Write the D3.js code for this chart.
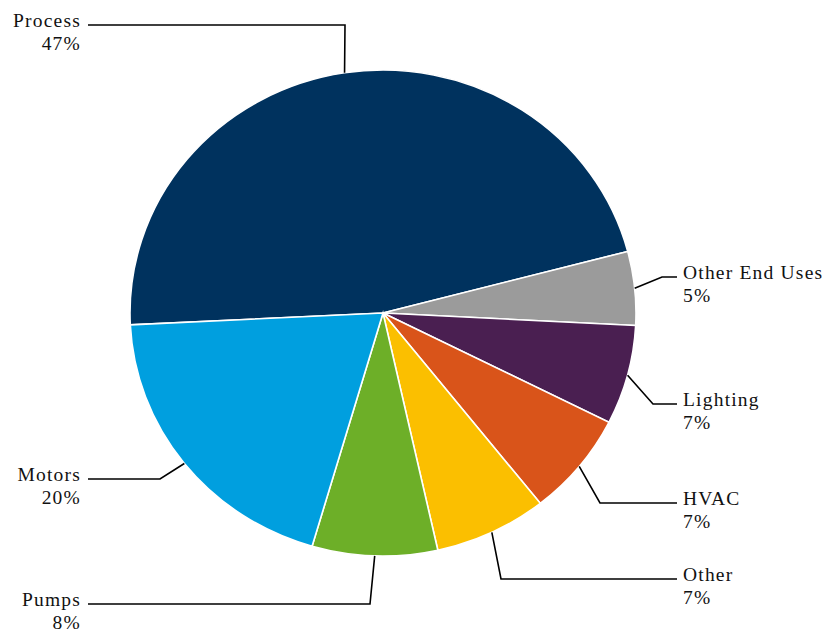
<!DOCTYPE html>
<html>
<head>
<meta charset="utf-8">
<script src="https://cdn.jsdelivr.net/npm/d3@7"></script>
<style>
  body { margin: 0; background: #fff; }
  svg { display: block; }
  .leader { fill: none; stroke: #000; stroke-width: 1.6; }
</style>
</head>
<body>
<svg id="chart" width="834" height="633"></svg>
<script>
// data (share of energy use)
const categories = ['Process', 'Other End Uses', 'Lighting', 'HVAC', 'Other', 'Pumps', 'Motors'];
const values = [46.7, 4.9, 6.6, 6.9, 7.2, 8.0, 19.7];
const colors = ['#00325e', '#9b9b9b', '#4a1f51', '#d9541a', '#fbbf00', '#6daf28', '#009fdf'];

// label layout: elbow point of each leader, side of the text
const labelLayout = {
  'Process':        { elbow: [345, 25],  side: 'left' },
  'Other End Uses': { elbow: [662, 277], side: 'right' },
  'Lighting':       { elbow: [653, 404], side: 'right' },
  'HVAC':           { elbow: [600, 503], side: 'right' },
  'Other':          { elbow: [501, 579], side: 'right' },
  'Pumps':          { elbow: [370, 604], side: 'left' },
  'Motors':         { elbow: [160, 479], side: 'left' }
};

const cx = 383, cy = 313;
const rx = 253, ry = 243;
const startDeg = -92.8;
const labelFont = "'Liberation Serif', 'DejaVu Serif', serif";

const svg = d3.select('#chart');
const total = d3.sum(values);
const data = categories.map((c, i) => ({ name: c, value: values[i], color: colors[i] }));

const pie = d3.pie()
  .sort(null)
  .value(d => d.value)
  .startAngle(startDeg * Math.PI / 180)
  .endAngle((startDeg + 360) * Math.PI / 180);

const arcs = pie(data);
const arc = d3.arc().innerRadius(0).outerRadius(rx);

// slices (pie is a bit squashed vertically in the picture)
const g = svg.append('g')
  .attr('transform', `translate(${cx},${cy}) scale(1,${ry / rx})`);

g.selectAll('path.slice')
  .data(arcs)
  .enter()
  .append('path')
  .attr('class', 'slice')
  .attr('d', arc)
  .attr('fill', d => d.data.color)
  .attr('stroke', '#fff')
  .attr('stroke-width', 1.6)
  .attr('vector-effect', 'non-scaling-stroke');

// leaders + labels
const lineEndRight = 677, lineEndLeft = 88;
const textRight = 683, textLeft = 81;

arcs.forEach(d => {
  const lay = labelLayout[d.data.name];
  const mid = (d.startAngle + d.endAngle) / 2;
  const p0 = [cx + rx * Math.sin(mid), cy - ry * Math.cos(mid)];
  const [ex, ey] = lay.elbow;
  const endX = lay.side === 'right' ? lineEndRight : lineEndLeft;

  svg.append('path')
    .attr('class', 'leader')
    .attr('d', d3.line()([p0, [ex, ey], [endX, ey]]));

  const t = svg.append('text')
    .attr('font-family', labelFont)
    .attr('font-size', 19.5)
    .attr('letter-spacing', 1.2)
    .attr('fill', '#111')
    .attr('text-anchor', lay.side === 'right' ? 'start' : 'end')
    .attr('x', lay.side === 'right' ? textRight : textLeft)
    .attr('y', ey + 2);
  t.append('tspan').text(d.data.name);
  t.append('tspan')
    .attr('x', lay.side === 'right' ? textRight : textLeft)
    .attr('dy', 23)
    .text(Math.round(d.data.value / total * 100) + '%');
});
</script>
</body>
</html>
